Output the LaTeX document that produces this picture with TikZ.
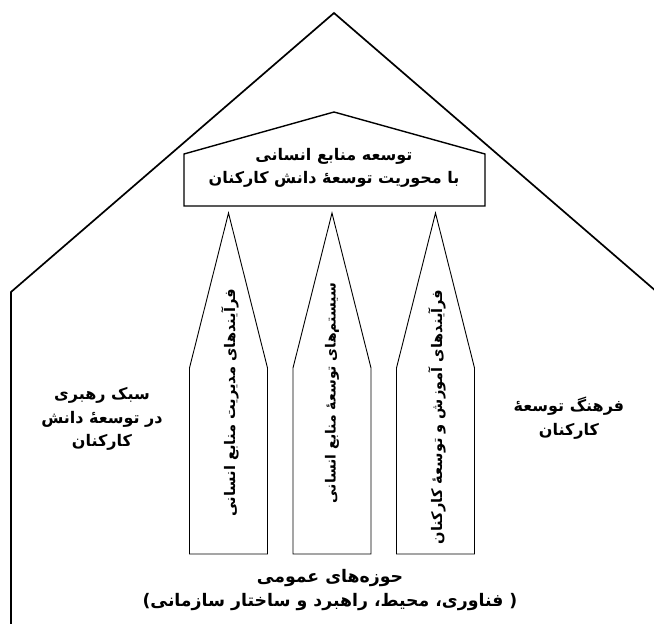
\documentclass[tikz,border=0pt]{standalone}
\usepackage{fontspec}
\newfontfamily\fa[Script=Arabic]{DejaVu Sans}
\TeXXeTstate=1
\begin{document}
\begin{tikzpicture}[x=1pt,y=-1pt,
  outerline/.style={draw=black,line width=1.7pt,line join=miter},
  pentline/.style={draw=black,line width=1.4pt},
  spikeline/.style={draw=black,line width=0.9pt},
  fatext/.style={font=\fa\bfseries\fontsize{16}{23.5}\selectfont,align=center,inner sep=0pt},
  bigtext/.style={font=\fa\bfseries\fontsize{17.3}{24}\selectfont,align=center,inner sep=0pt},
  vtext/.style={font=\fa\bfseries\fontsize{14.6}{16}\selectfont,rotate=90,inner sep=0pt}]
\useasboundingbox (0,0) rectangle (654,624);
\clip (0,0) rectangle (654,624);
% outer house
\draw[outerline] (11,640) -- (11,292) -- (334,13) -- (657,292) -- (657,640);
% pentagon
\draw[pentline] (184,206) -- (184,154) -- (334,112) -- (485,154) -- (485,206) -- cycle;
% spikes
\foreach \c in {228.5,332,435.5}{
  \draw[spikeline] (\c-39,554) -- (\c-39,368) -- (\c,213) -- (\c+39,368) -- (\c+39,554) -- cycle;
}
\node[fatext] (top) at (334,168) {\beginR توسعه منابع انسانی\endR\\\beginR با محوریت توسعهٔ دانش کارکنان\endR};
\node[fatext] (left) at (102,419) {\beginR سبک رهبری\endR\\\beginR در توسعهٔ دانش\endR\\\beginR کارکنان\endR};
\node[fatext] (right) at (569,418) {\beginR فرهنگ توسعهٔ\endR\\\beginR کارکنان\endR};
\node[bigtext] (bottom) at (330,590) {\beginR حوزه‌های عمومی\endR\\)\beginR فناوری، محیط، راهبرد و ساختار سازمانی\endR\ (};
\node[vtext] (s1) at (230,403) {\beginR فرآیندهای مدیریت منابع انسانی\endR};
\node[vtext,font=\fa\bfseries\fontsize{14}{16}\selectfont] (s2) at (332,393) {\beginR سیستم‌های توسعهٔ منابع انسانی\endR};
\node[vtext] (s3) at (437,417) {\beginR فرآیندهای آموزش و توسعهٔ کارکنان\endR};
\end{tikzpicture}
\end{document}
